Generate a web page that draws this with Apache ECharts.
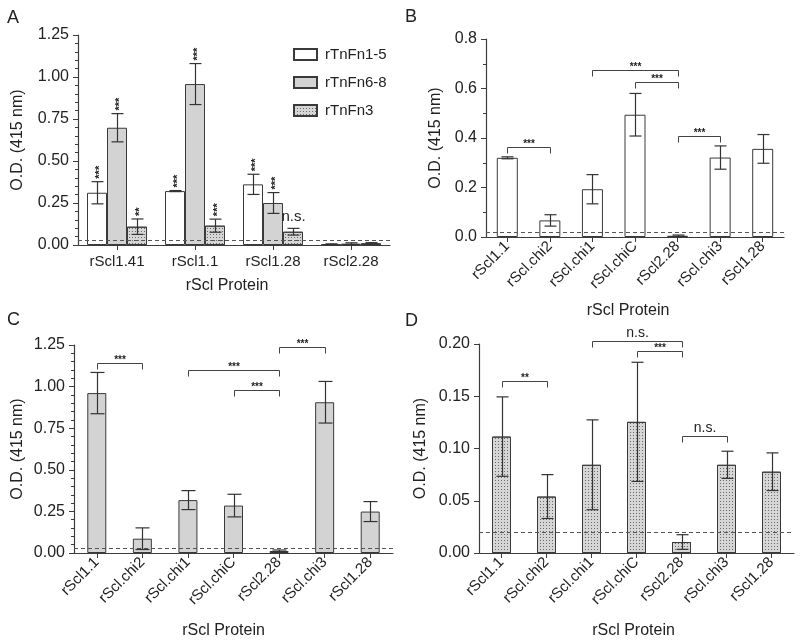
<!DOCTYPE html>
<html>
<head>
<meta charset="utf-8">
<script src="https://cdn.jsdelivr.net/npm/echarts@6/dist/echarts.min.js"></script>
<style>
html, body { margin: 0; padding: 0; background: #fff; }
#main { width: 800px; height: 640px; }
</style>
</head>
<body>
<div id="main"></div>
<script>
// ---- data ----
// panel A
var catsA = ['rScl1.41', 'rScl1.1', 'rScl1.28', 'rScl2.28'];
var namesA = ['rTnFn1-5', 'rTnFn6-8', 'rTnFn3'];
var meanA15 = [0.311, 0.321, 0.361, 0.004];
var errA15 = [0.066, 0.003, 0.060, 0.003];
var sigA15 = ['***', '***', '***', ''];
var meanA68 = [0.698, 0.958, 0.250, 0.008];
var errA68 = [0.084, 0.122, 0.062, 0.005];
var sigA68 = ['***', '***', '***', ''];
var meanA3 = [0.109, 0.115, 0.079, 0.010];
var errA3 = [0.046, 0.039, 0.020, 0.004];
var sigA3 = ['**', '***', 'n.s.', ''];
var cutoffA = 0.03;

// panels B, C, D share categories
var catsBCD = ['rScl1.1', 'rScl.chi2', 'rScl.chi1', 'rScl.chiC', 'rScl2.28', 'rScl.chi3', 'rScl1.28'];

var meanB = [0.320, 0.067, 0.193, 0.494, 0.005, 0.321, 0.356];
var errB = [0.004, 0.023, 0.059, 0.086, 0.003, 0.047, 0.058];
var cutoffB = 0.016;
// [from, to, height, label]
var bracketsB = [[0, 1, 0.364, '***'], [2, 4, 0.675, '***'], [3, 4, 0.626, '***'], [4, 5, 0.408, '***']];

var meanC = [0.961, 0.086, 0.318, 0.285, 0.012, 0.906, 0.249];
var errC = [0.124, 0.065, 0.057, 0.068, 0.006, 0.125, 0.060];
var cutoffC = 0.03;
var bracketsC = [[0, 1, 1.144, '***'], [2, 4, 1.101, '***'], [3, 4, 0.981, '***'], [4, 5, 1.236, '***']];

var meanD = [0.1114, 0.054, 0.0844, 0.1255, 0.0105, 0.0844, 0.0778];
var errD = [0.038, 0.021, 0.043, 0.057, 0.007, 0.013, 0.018];
var cutoffD = 0.0238;
var bracketsD = [[0, 1, 0.1644, '**'], [2, 4, 0.2025, 'n.s.'], [3, 4, 0.193, '***'], [4, 5, 0.112, 'n.s.']];

// ---- style ----
var FONT = '"Liberation Sans", Arial, sans-serif';
var AXIS = '#3c3c3c';
var TXT = '#222';
var dots = {
	symbol: 'rect',
	symbolSize: 1,
	dashArrayX: [1, 2],
	dashArrayY: [1, 2],
	color: '#6a6a6a'
};

function ln(x1, y1, x2, y2) {
	return {
		type: 'line',
		shape: { x1: x1, y1: y1, x2: x2, y2: y2 },
		style: { stroke: '#333', lineWidth: 1.2 }
	};
}

// error bars (and stars above them for panel A)
function errorSeries(ax, means, errs, sigs, offset, cap) {
	return {
		type: 'custom',
		xAxisIndex: ax,
		yAxisIndex: ax,
		silent: true,
		z: 5,
		encode: { x: 0, y: 1 },
		data: means.map(function(m, i) { return [i, m]; }),
		renderItem: function(params, api) {
			var i = params.dataIndex;
			var hi = api.coord([i, means[i] + errs[i]]);
			var lo = api.coord([i, Math.max(means[i] - errs[i], 0)]);
			var x = Math.round(hi[0] + offset) + 0.5;
			var kids = [
				ln(x, hi[1], x, lo[1]),
				ln(x - cap / 2, hi[1], x + cap / 2, hi[1]),
				ln(x - cap / 2, lo[1], x + cap / 2, lo[1])
			];
			var s = sigs ? sigs[i] : '';
			if(s === 'n.s.') {
				kids.push({
					type: 'text', x: x, y: hi[1] - 4,
					style: { text: s, fill: TXT, fontSize: 15, fontFamily: FONT, align: 'center', verticalAlign: 'bottom' }
				});
			} else if(s) {
				kids.push({
					type: 'text', x: x + 2, y: hi[1] - 3, rotation: Math.PI / 2,
					style: { text: s, fill: TXT, fontSize: 11, fontWeight: 'bold', fontFamily: FONT, align: 'left', verticalAlign: 'middle' }
				});
			}
			return { type: 'group', children: kids };
		}
	};
}

// significance brackets
function bracketSeries(ax, brackets) {
	return {
		type: 'custom',
		xAxisIndex: ax,
		yAxisIndex: ax,
		silent: true,
		z: 5,
		encode: { x: 0, y: 2 },
		data: brackets.map(function(b) { return [b[0], b[1], b[2]]; }),
		renderItem: function(params, api) {
			var b = brackets[params.dataIndex];
			var p1 = api.coord([b[0], b[2]]);
			var p2 = api.coord([b[1], b[2]]);
			var y = Math.round(p1[1]) + 0.5;
			var x1 = Math.round(p1[0]) + 0.5;
			var x2 = Math.round(p2[0]) + 0.5;
			var ns = b[3] === 'n.s.';
			return {
				type: 'group',
				children: [{
					type: 'polyline',
					shape: { points: [[x1, y + 6], [x1, y], [x2, y], [x2, y + 6]] },
					style: { stroke: '#444', fill: null, lineWidth: 1 }
				}, {
					type: 'text',
					x: (x1 + x2) / 2,
					y: ns ? y - 1 : y + 2,
					style: {
						text: b[3], fill: TXT, fontFamily: FONT,
						fontSize: ns ? 14 : 10, fontWeight: ns ? 'normal' : 'bold',
						align: 'center', verticalAlign: 'bottom'
					}
				}]
			};
		}
	};
}

function cutLine(v) {
	return {
		silent: true,
		symbol: 'none',
		label: { show: false },
		lineStyle: { type: [4, 3], color: '#555', width: 1 },
		data: [{ yAxis: v }]
	};
}

function xAx(gi, cats, rotate, gap, shift) {
	return {
		type: 'category',
		gridIndex: gi,
		data: cats,
		name: 'rScl Protein',
		nameLocation: 'middle',
		nameGap: gap,
		nameTextStyle: { fontSize: 16, color: TXT, fontFamily: FONT, padding: [0, shift * 2, 0, 0] },
		axisLine: { lineStyle: { color: AXIS, width: 1.2 } },
		axisTick: { show: true, alignWithLabel: true, length: 5, lineStyle: { color: AXIS } },
		axisLabel: { rotate: rotate, interval: 0, fontSize: 15, color: TXT, fontFamily: FONT, margin: rotate ? 7 : 9 },
		splitLine: { show: false }
	};
}

function yAx(gi, max, step, dec, minor, gap) {
	return {
		type: 'value',
		gridIndex: gi,
		min: 0,
		max: max,
		interval: step,
		name: 'O.D. (415 nm)',
		nameLocation: 'middle',
		nameGap: gap,
		nameTextStyle: { fontSize: 16, color: TXT, fontFamily: FONT },
		axisLine: { show: true, lineStyle: { color: AXIS, width: 1.2 } },
		axisTick: { show: true, length: 5, lineStyle: { color: AXIS } },
		minorTick: { show: minor > 0, splitNumber: minor || 5, length: 3, lineStyle: { color: AXIS } },
		axisLabel: {
			fontSize: 16, color: TXT, fontFamily: FONT, margin: 9,
			formatter: function(v) { return v.toFixed(dec); }
		},
		splitLine: { show: false }
	};
}

function barStyle(color, decal) {
	var s = { color: color, borderColor: '#3a3a3a', borderWidth: 1 };
	if(decal) s.decal = decal;
	return s;
}

var chart = echarts.init(document.getElementById('main'), null, { renderer: 'canvas' });

var option = {
	animation: false,
	backgroundColor: '#fff',
	textStyle: { fontFamily: FONT },
	grid: [
		{ left: 78, top: 35, width: 312, height: 210 },
		{ left: 486, top: 39, width: 298, height: 198 },
		{ left: 74, top: 345, width: 319, height: 209 },
		{ left: 479, top: 344, width: 315, height: 210 }
	],
	legend: {
		data: namesA,
		orient: 'vertical',
		left: 288,
		top: 42,
		icon: 'rect',
		itemWidth: 23,
		itemHeight: 11,
		itemGap: 13,
		textStyle: { fontSize: 15, color: TXT, fontFamily: FONT, padding: [0, 0, 0, 3] },
		selectedMode: false
	},
	graphic: [
		{ type: 'text', left: 7, top: 9, style: { text: 'A', fontSize: 18, fill: TXT, fontFamily: FONT } },
		{ type: 'text', left: 405, top: 8, style: { text: 'B', fontSize: 18, fill: TXT, fontFamily: FONT } },
		{ type: 'text', left: 7, top: 311, style: { text: 'C', fontSize: 18, fill: TXT, fontFamily: FONT } },
		{ type: 'text', left: 405, top: 312, style: { text: 'D', fontSize: 18, fill: TXT, fontFamily: FONT } }
	],
	xAxis: [
		xAx(0, catsA, 0, 33, 7),
		xAx(1, catsBCD, 45, 66, 7),
		xAx(2, catsBCD, 45, 70, 10),
		xAx(3, catsBCD, 45, 70, 3)
	],
	yAxis: [
		yAx(0, 1.25, 0.25, 2, 5, 52),
		yAx(1, 0.8, 0.2, 1, 2, 42),
		yAx(2, 1.25, 0.25, 2, 5, 48),
		yAx(3, 0.2, 0.05, 2, 0, 50)
	],
	series: [
		// A
		{ name: namesA[0], type: 'bar', xAxisIndex: 0, yAxisIndex: 0, data: meanA15, barWidth: 20, barGap: '0%', itemStyle: barStyle('#ffffff'), markLine: cutLine(cutoffA) },
		{ name: namesA[1], type: 'bar', xAxisIndex: 0, yAxisIndex: 0, data: meanA68, barWidth: 20, barGap: '0%', itemStyle: barStyle('#d3d3d3') },
		{ name: namesA[2], type: 'bar', xAxisIndex: 0, yAxisIndex: 0, data: meanA3, barWidth: 20, barGap: '0%', itemStyle: barStyle('#d6d6d6', dots) },
		errorSeries(0, meanA15, errA15, sigA15, -20, 12),
		errorSeries(0, meanA68, errA68, sigA68, 0, 12),
		errorSeries(0, meanA3, errA3, sigA3, 20, 12),
		// B
		{ type: 'bar', xAxisIndex: 1, yAxisIndex: 1, data: meanB, barWidth: 21, itemStyle: barStyle('#ffffff'), markLine: cutLine(cutoffB) },
		errorSeries(1, meanB, errB, null, 0, 12),
		bracketSeries(1, bracketsB),
		// C
		{ type: 'bar', xAxisIndex: 2, yAxisIndex: 2, data: meanC, barWidth: 19, itemStyle: barStyle('#d3d3d3'), markLine: cutLine(cutoffC) },
		errorSeries(2, meanC, errC, null, 0, 14),
		bracketSeries(2, bracketsC),
		// D
		{ type: 'bar', xAxisIndex: 3, yAxisIndex: 3, data: meanD, barWidth: 19, itemStyle: barStyle('#d6d6d6', dots), markLine: cutLine(cutoffD) },
		errorSeries(3, meanD, errD, null, 0, 12),
		bracketSeries(3, bracketsD)
	]
};

chart.setOption(option);
</script>
</body>
</html>
